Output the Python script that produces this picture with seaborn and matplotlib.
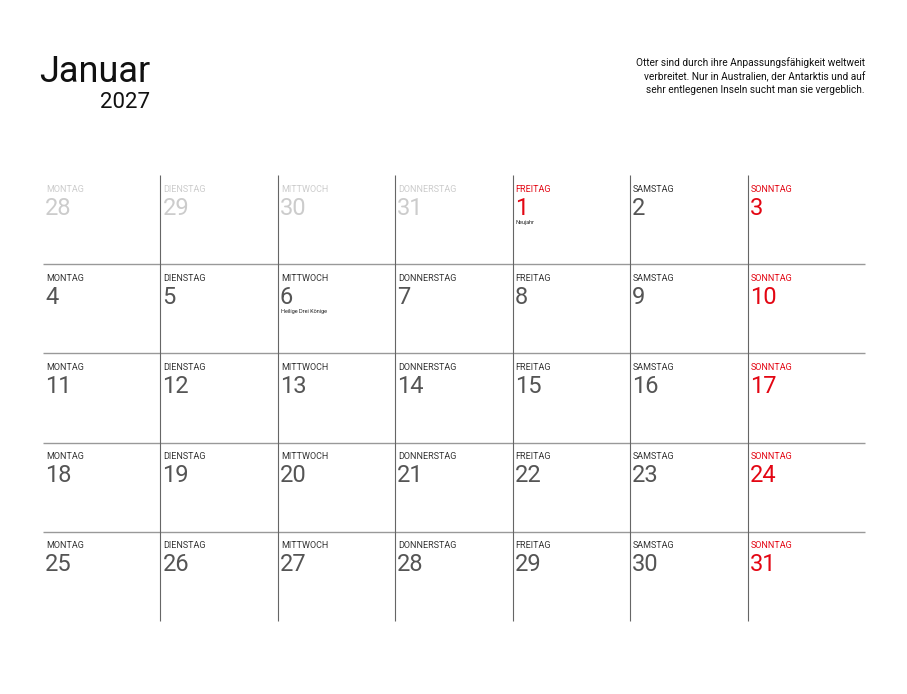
import matplotlib
matplotlib.use("Agg")
import matplotlib.pyplot as plt
import seaborn as sns

# calendar data
weekdays = ["MONTAG", "DIENSTAG", "MITTWOCH", "DONNERSTAG", "FREITAG", "SAMSTAG", "SONNTAG"]
days = [28, 29, 30, 31] + list(range(1, 32))
in_month = [False] * 4 + [True] * 31
holidays = {1: "Neujahr", 6: "Heilige Drei Könige"}
red_days = [1, 3, 10, 17, 24, 31]

sns.set_theme(style="white")
plt.rcParams["font.family"] = ["Roboto", "DejaVu Sans"]

fig = plt.figure(figsize=(9.07, 6.94), dpi=100)
ax = fig.add_axes([0, 0, 1, 1])
ax.set_xlim(0, 907)
ax.set_ylim(694, 0)
ax.axis("off")

left, right = 43, 865
top, row_h = 175, 89.2
col_w = (right - left) / 7
n_rows = 5

# grid lines
for r in range(1, n_rows):
    ax.hlines(top + r * row_h, left, right, color="#999999", lw=1)
for c in range(1, 7):
    ax.vlines(left + c * col_w, top, top + n_rows * row_h, color="#666666", lw=0.8)

for i, d in enumerate(days):
    r, c = divmod(i, 7)
    x = left + c * col_w + 3
    y = top + r * row_h
    if not in_month[i]:
        col = "#cccccc"
    elif d in red_days:
        col = "#e30613"
    else:
        col = "#555555"
    lab_col = col if col != "#555555" else "#333333"
    ax.text(x, y + 14, weekdays[c], fontsize=6.5, color=lab_col, va="center", ha="left")
    ax.text(x - 1, y + 33, str(d), fontsize=17, color=col, va="center", ha="left")
    if in_month[i] and d in holidays:
        ax.text(x, y + 47, holidays[d], fontsize=4, color="#222222", va="center", ha="left")

ax.text(150, 72, "Januar", fontsize=26, ha="right", va="center", color="#111111")
ax.text(150, 102, "2027", fontsize=16, ha="right", va="center", color="#111111")
ax.text(865, 76, "Otter sind durch ihre Anpassungsfähigkeit weltweit\n"
        "verbreitet. Nur in Australien, der Antarktis und auf\n"
        "sehr entlegenen Inseln sucht man sie vergeblich.",
        fontsize=7.3, ha="right", va="center", color="#111111", linespacing=1.4)

fig.savefig("out.png", dpi=100, facecolor="white")
